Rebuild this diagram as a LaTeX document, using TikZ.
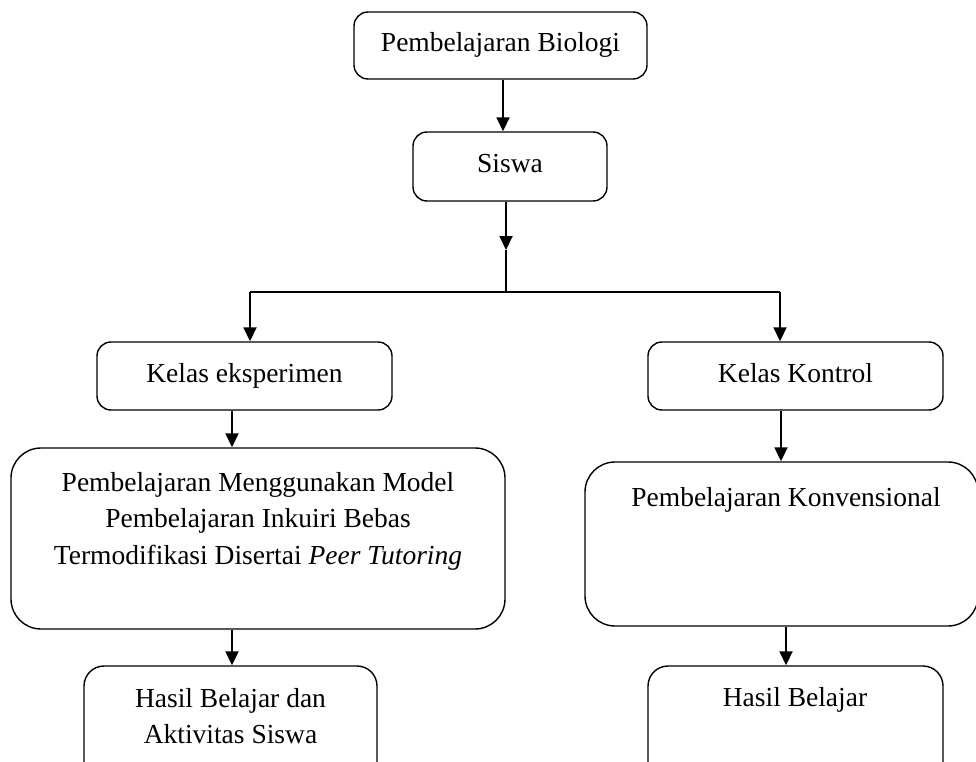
\documentclass[tikz,border=0pt]{standalone}
\usepackage{fontspec}
\setmainfont{Liberation Serif}
\usetikzlibrary{arrows.meta}
\newcommand{\fsz}{\fontsize{27.5}{36.5}\selectfont}
\begin{document}
\begin{tikzpicture}[x=1pt,y=-1pt,
  box/.style={draw, line width=1.4pt, rounded corners=#1, inner sep=0pt, font=\fsz},
  box/.default=14pt,
  one/.style={text height=19pt, text depth=6pt},
  txt/.style={inner sep=0pt, font=\fsz, align=center},
  arr/.style={line width=1.8pt, -{Triangle[width=13pt,length=14pt]}},
  ln/.style={line width=1.6pt}]
\useasboundingbox (0,0) rectangle (976,762);
\clip (0,0) rectangle (976,762);
% boxes
\node[box, one, minimum width=293pt, minimum height=67pt] (top) at (500.5,45.5) {Pembelajaran Biologi};
\node[box, one, minimum width=194pt, minimum height=69pt] (siswa) at (510,166.5) {Siswa};
\node[box, one, minimum width=295pt, minimum height=68pt] (ke) at (244.5,376) {Kelas eksperimen};
\node[box, one, minimum width=295pt, minimum height=68pt] (kk) at (795.5,376) {Kelas Kontrol};
\node[box=30pt, minimum width=494pt, minimum height=181pt] (bigL) at (258,538.5) {};
\node[txt] (bigLt) at (258,521) {Pembelajaran Menggunakan Model\\Pembelajaran Inkuiri Bebas\\Termodifikasi Disertai \textit{Peer Tutoring}};
\node[box=30pt, minimum width=393pt, minimum height=164pt] (bigR) at (781.5,544) {};
\node[txt, one] (bigRt) at (786,500) {Pembelajaran Konvensional};
\node[box=20pt, minimum width=293pt, minimum height=124pt] (hl) at (230.5,728) {};
\node[txt] (hlt) at (230.5,716) {Hasil Belajar dan\\Aktivitas Siswa};
\node[box=20pt, minimum width=295pt, minimum height=124pt] (hr) at (795.5,728) {};
\node[txt, one] (hrt) at (795,700) {Hasil Belajar};
% junction
\coordinate (a1) at (506,250);
\coordinate (j) at (506,292);
\coordinate (jl) at (250,292);
\coordinate (jr) at (780,292);
% connectors
\draw[arr] ([xshift=2.5pt]top.south) -- ([xshift=2.5pt]top.south |- siswa.north);
\draw[arr] (siswa.south -| a1) -- (a1);
\draw[ln] (a1) -- (j);
\draw[ln] (jl) -- (jr);
\draw[arr] (jl) -- (jl |- ke.north);
\draw[arr] (jr) -- (jr |- kk.north);
\draw[arr] ([xshift=-12.5pt]ke.south) -- ([xshift=-12.5pt]ke.south |- bigL.north);
\draw[arr] ([xshift=-26pt]bigL.south) -- ([xshift=-26pt]bigL.south |- hl.north);
\draw[arr] ([xshift=-14.5pt]kk.south) -- ([xshift=-14.5pt]kk.south |- bigR.north);
\draw[arr] ([xshift=4.5pt]bigR.south) -- ([xshift=4.5pt]bigR.south |- hr.north);
\end{tikzpicture}
\end{document}
